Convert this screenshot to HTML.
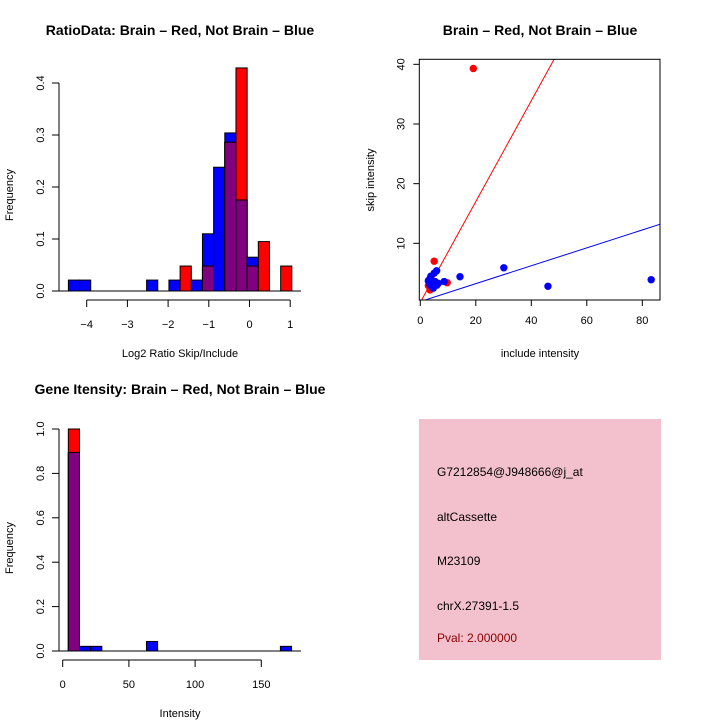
<!DOCTYPE html>
<html><head><meta charset="utf-8"><style>
body{margin:0;background:#fff;}
svg{display:block;font-family:"Liberation Sans",sans-serif;}
</style></head><body>
<svg id="c" width="720" height="720" xmlns="http://www.w3.org/2000/svg">
<rect width="720" height="720" fill="#fff"/>
<g id="g1"></g>
<g id="g2"></g>
<g id="g3"></g>
<g>
<rect x="419" y="419" width="242" height="241" fill="#f3c1cd"/>
<text x="437" y="476" font-size="12">G7212854@J948666@j_at</text>
<text x="437" y="521" font-size="12">altCassette</text>
<text x="437" y="565" font-size="12">M23109</text>
<text x="437" y="610" font-size="12">chrX.27391-1.5</text>
<text x="437" y="642" font-size="12" fill="#8b0000">Pval: 2.000000</text>
</g>
</svg>
<script>
// Histogram 1 data
const ratioBlue = [0.021,0.021,0,0,0,0,0,0.021,0,0.021,0,0.021,0.11,0.238,0.304,0.175,0.065,0,0,0];
const ratioRed  = [0,0,0,0,0,0,0,0,0,0,0.048,0,0.048,0,0.286,0.429,0.048,0.095,0,0.048];
const ratioXTicks = [-4,-3,-2,-1,0,1];
const ratioYTicks = [0,0.1,0.2,0.3,0.4];
const ratioBinStart = -4.45, ratioBinWidth = 0.2745;
// Scatter data
const redX = [19.1,5.0,9.7,2.9,3.5,3.0,4.0];
const redY = [39.3,7.0,3.4,2.9,2.2,3.8,2.6];
const blueX = [14.3,30.1,46,83.2,8.6,5.9,5.0,3.5,4.1,4.7,6.5,2.9,5.3,3.5,4.5,6.0,3.8];
const blueY = [4.4,5.9,2.8,3.9,3.6,5.4,5.0,4.1,3.3,2.5,3.3,3.7,3.6,3.0,2.8,3.0,4.5];
const redLine = [0.1,0.845];
const blueLine = [0.24,0.150];
const scXTicks = [0,20,40,60,80];
const scYTicks = [10,20,30,40];
// Histogram 3 data
const intBlue = [0.894,0.021,0.021,0,0,0,0,0.043,0,0,0,0,0,0,0,0,0,0,0,0.021];
const intRed  = [1.0,0,0,0,0,0,0,0,0,0,0,0,0,0,0,0,0,0,0,0];
const intXTicks = [0,50,100,150];
const intYTicks = [0,0.2,0.4,0.6,0.8,1.0];
const intBinStart = 4.25, intBinWidth = 8.43;

const NS="http://www.w3.org/2000/svg";
function mk(p,t,a){const e=document.createElementNS(NS,t);for(const k in a)e.setAttribute(k,a[k]);p.appendChild(e);return e;}
function txt(p,x,y,s,size,rot,extra){const e=mk(p,'text',Object.assign({x:x,y:y,'font-size':size,'text-anchor':'middle'},extra||{}));if(rot)e.setAttribute('transform','rotate(-90 '+x+' '+y+')');e.textContent=s;return e;}

function hist(g,blue,red,bs,bw,xs,ys,xT,yT,title,xlab,top){
  const y0=ys(0);
  mk(g,'line',{x1:52,x2:301,y1:y0,y2:y0,stroke:'#000'});
  for(let i=0;i<blue.length;i++){
    const x1=xs(bs+i*bw),x2=xs(bs+(i+1)*bw);
    const b=blue[i],r=red[i];
    if(b>0){const e=mk(g,'rect',{x:x1,y:ys(b),width:x2-x1,height:y0-ys(b),fill:'#0000ff',stroke:'#000'});
      
      }
    if(r>0){const e=mk(g,'rect',{x:x1,y:ys(r),width:x2-x1,height:y0-ys(r),fill:'#ff0000',stroke:'#000'});
      
      }
    if(b>0&&r>0){const m=Math.min(b,r);const e=mk(g,'rect',{x:x1,y:ys(m),width:x2-x1,height:y0-ys(m),fill:'#800080',stroke:'#000'});
      
      }
  }
  const ax=59;
  mk(g,'line',{x1:ax,x2:ax,y1:ys(yT[0]),y2:ys(yT[yT.length-1]),stroke:'#000'});
  yT.forEach(v=>{mk(g,'line',{x1:ax-7,x2:ax,y1:ys(v),y2:ys(v),stroke:'#000'});
    const t=txt(g,ax-15,ys(v),v.toFixed(1),11,true);});
  const axY=y0+9;
  mk(g,'line',{x1:xs(xT[0]),x2:xs(xT[xT.length-1]),y1:axY,y2:axY,stroke:'#000'});
  xT.forEach(v=>{mk(g,'line',{x1:xs(v),x2:xs(v),y1:axY,y2:axY+7,stroke:'#000'});
    const t=txt(g,xs(v),axY+28,String(v).replace('-','\u2212'),11);});
  const t1=txt(g,180,top,title,14,false,{'font-weight':'bold'});
  const t2=txt(g,180,y0+66,xlab,11);
  const t3=txt(g,13,(y0+ys(yT[yT.length-1]))/2+8,'Frequency',11,true);
}

const g1=document.getElementById('g1');
hist(g1,ratioBlue,ratioRed,ratioBinStart,ratioBinWidth,v=>86.7+(v+4)*40.7,v=>291-v*520,ratioXTicks,ratioYTicks,'RatioData: Brain \u2013 Red, Not Brain \u2013 Blue','Log2 Ratio Skip/Include',35);
const g3=document.getElementById('g3');
hist(g3,intBlue,intRed,intBinStart,intBinWidth,v=>62.7+v*1.324,v=>651-v*222,intXTicks,intYTicks,'Gene Itensity: Brain \u2013 Red, Not Brain \u2013 Blue','Intensity',394);

// scatter
const g2=document.getElementById('g2');
const sx=v=>420.3+v*2.775, sy=v=>303-v*5.967;
const L=419.3,R=660,T=59.3,B=300;
mk(g2,'defs',{}).innerHTML='<clipPath id="cp"><rect x="'+L+'" y="'+T+'" width="'+(R-L)+'" height="'+(B-T)+'"/></clipPath>';
[[redLine,'#ff0000','red-fit-line'],[blueLine,'#0000ff','blue-fit-line']].forEach(([ln,c,n])=>{
  const x1=-1,x2=90;
  const e=mk(g2,'line',{x1:sx(x1),y1:sy(ln[0]+ln[1]*x1),x2:sx(x2),y2:sy(ln[0]+ln[1]*x2),stroke:c,'clip-path':'url(#cp)'});
  
  
});
redX.forEach((x,i)=>{const e=mk(g2,'circle',{cx:sx(x),cy:sy(redY[i]),r:3.7,fill:'#ff0000'});
  
  });
blueX.forEach((x,i)=>{const e=mk(g2,'circle',{cx:sx(x),cy:sy(blueY[i]),r:3.7,fill:'#0000ff'});
  
  });
mk(g2,'rect',{x:L,y:T,width:R-L,height:B-T,fill:'none',stroke:'#000'});
scXTicks.forEach(v=>{mk(g2,'line',{x1:sx(v),x2:sx(v),y1:B,y2:B+6,stroke:'#000'});
  const t=txt(g2,sx(v),B+24,String(v),11);});
scYTicks.forEach(v=>{mk(g2,'line',{x1:L-6,x2:L,y1:sy(v),y2:sy(v),stroke:'#000'});
  const t=txt(g2,L-15,sy(v),String(v),11,true);});
{const t=txt(g2,540,35,'Brain \u2013 Red, Not Brain \u2013 Blue',14,false,{'font-weight':'bold'});}
{const t=txt(g2,540,357,'include intensity',11);}
{const t=txt(g2,374,180,'skip intensity',11,true);}
</script>
</body></html>
